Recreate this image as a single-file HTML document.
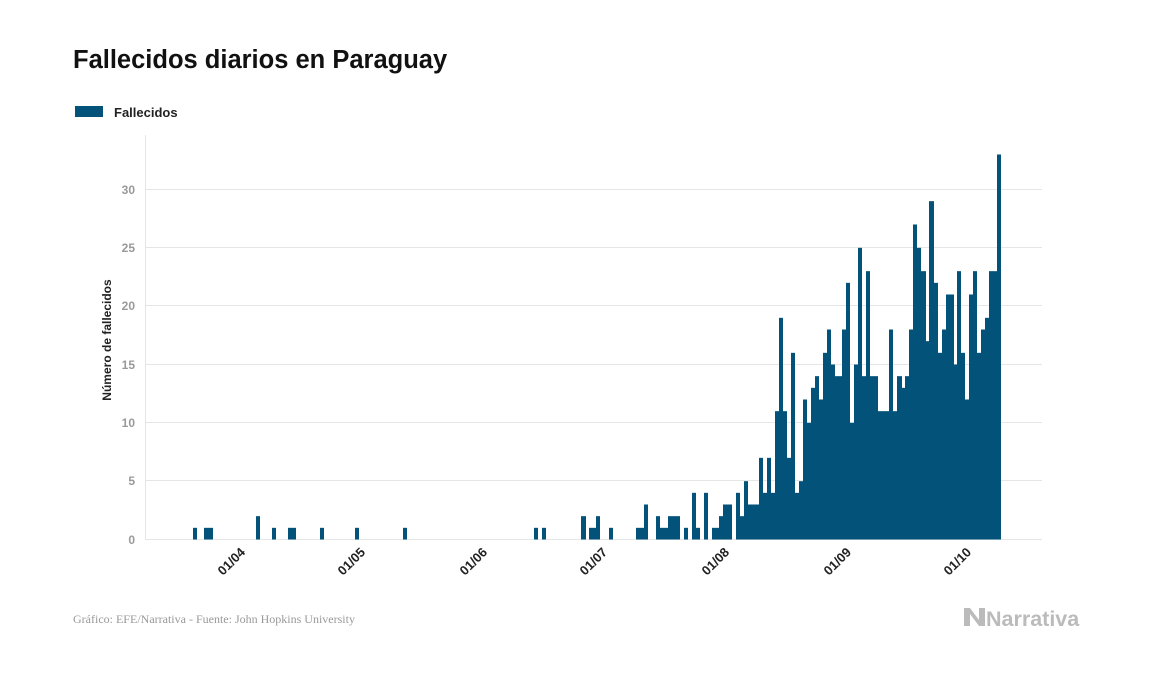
<!DOCTYPE html>
<html><head><meta charset="utf-8"><style>
body{margin:0;background:#fff;width:1157px;height:674px;overflow:hidden}
svg text{font-family:"Liberation Sans",sans-serif}
</style></head><body>
<svg width="1157" height="674" xmlns="http://www.w3.org/2000/svg">
<text x="73" y="68" font-size="25.5" font-weight="bold" fill="#111">Fallecidos diarios en Paraguay</text>
<rect x="75" y="106" width="28" height="11" fill="#02527a"/>
<text x="114" y="117" font-size="13" font-weight="bold" fill="#222">Fallecidos</text>
<g stroke="#e6e6e6" stroke-width="1">
<line x1="145" x2="1042" y1="189.5" y2="189.5"/>
<line x1="145" x2="1042" y1="247.5" y2="247.5"/>
<line x1="145" x2="1042" y1="305.5" y2="305.5"/>
<line x1="145" x2="1042" y1="364.5" y2="364.5"/>
<line x1="145" x2="1042" y1="422.5" y2="422.5"/>
<line x1="145" x2="1042" y1="480.5" y2="480.5"/>
<line x1="145" x2="1042" y1="539.5" y2="539.5"/>
<line x1="145.5" x2="145.5" y1="135" y2="539"/>
</g>
<g font-size="12" font-weight="bold" fill="#999" text-anchor="end">
<text x="135" y="194">30</text><text x="135" y="252">25</text><text x="135" y="310">20</text>
<text x="135" y="369">15</text><text x="135" y="427">10</text><text x="135" y="485">5</text><text x="135" y="544">0</text>
</g>
<text transform="translate(111,340) rotate(-90)" font-size="12" font-weight="bold" fill="#222" text-anchor="middle">Número de fallecidos</text>
<g id="bars" fill="#02527a"></g>
<g font-size="13" font-weight="bold" fill="#222" text-anchor="end">
<text transform="translate(246,553) rotate(-45)">01/04</text>
<text transform="translate(366,553) rotate(-45)">01/05</text>
<text transform="translate(488,553) rotate(-45)">01/06</text>
<text transform="translate(608,553) rotate(-45)">01/07</text>
<text transform="translate(730,553) rotate(-45)">01/08</text>
<text transform="translate(852,553) rotate(-45)">01/09</text>
<text transform="translate(972,553) rotate(-45)">01/10</text>
</g>
<text x="73" y="623" font-size="12" fill="#999" style="font-family:'Liberation Serif',serif">Gráfico: EFE/Narrativa - Fuente: John Hopkins University</text>
<g fill="#bbb"><path d="M964 608 L970 608 L979 620 L979 608 L985 608 L985 626 L979 626 L970 614 L970 626 L964 626Z"/></g>
<text x="986" y="626" font-size="21.5" font-weight="bold" fill="#bbb">Narrativa</text>
</svg>
<script>
var d=[[193,197,1],[204,213,1],[256,260,2],[272,276,1],[288,296,1],[320,324,1],[355,359,1],[403,407,1],[534,538,1],[542,546,1],[581,586,2],[589,596,1],[596,600,2],[609,613,1],
[636,644,1],[644,648,3],[656,660,2],[660,668,1],[668,680,2],[684,688,1],[692,696,4],[696,700,1],[704,708,4],[712,719,1],[719,723,2],[723,732,3],[736,740,4],[740,744,2],[744,748,5],[748,759,3],[759,763,7],[763,767,4],[767,771,7],[771,775,4],[775,779,11],[779,783,19],[783,787,11],[787,791,7],[791,795,16],[795,799,4],[799,803,5],
[803,807,12],[807,811,10],[811,815,13],[815,819,14],[819,823,12],[823,827,16],[827,831,18],[831,835,15],[835,842,14],[842,846,18],[846,850,22],[850,854,10],[854,858,15],[858,862,25],[862,866,14],[866,870,23],[870,878,14],[878,889,11],[889,893,18],[893,897,11],[897,902,14],[902,905,13],[905,909,14],[909,913,18],[913,917,27],[917,921,25],[921,926,23],[926,929,17],[929,934,29],[934,938,22],[938,942,16],[942,946,18],[946,954,21],[954,957,15],[957,961,23],[961,965,16],[965,969,12],[969,973,21],[973,977,23],[977,981,16],[981,985,18],[985,989,19],[989,997,23],[997,1001,33]];
var g=document.getElementById('bars'),s='';
d.forEach(function(b){var h=b[2]*11.667;s+='<rect x="'+b[0]+'" y="'+(539.5-h)+'" width="'+(b[1]-b[0])+'" height="'+h+'"/>';});
g.innerHTML=s;
</script>
</body></html>
